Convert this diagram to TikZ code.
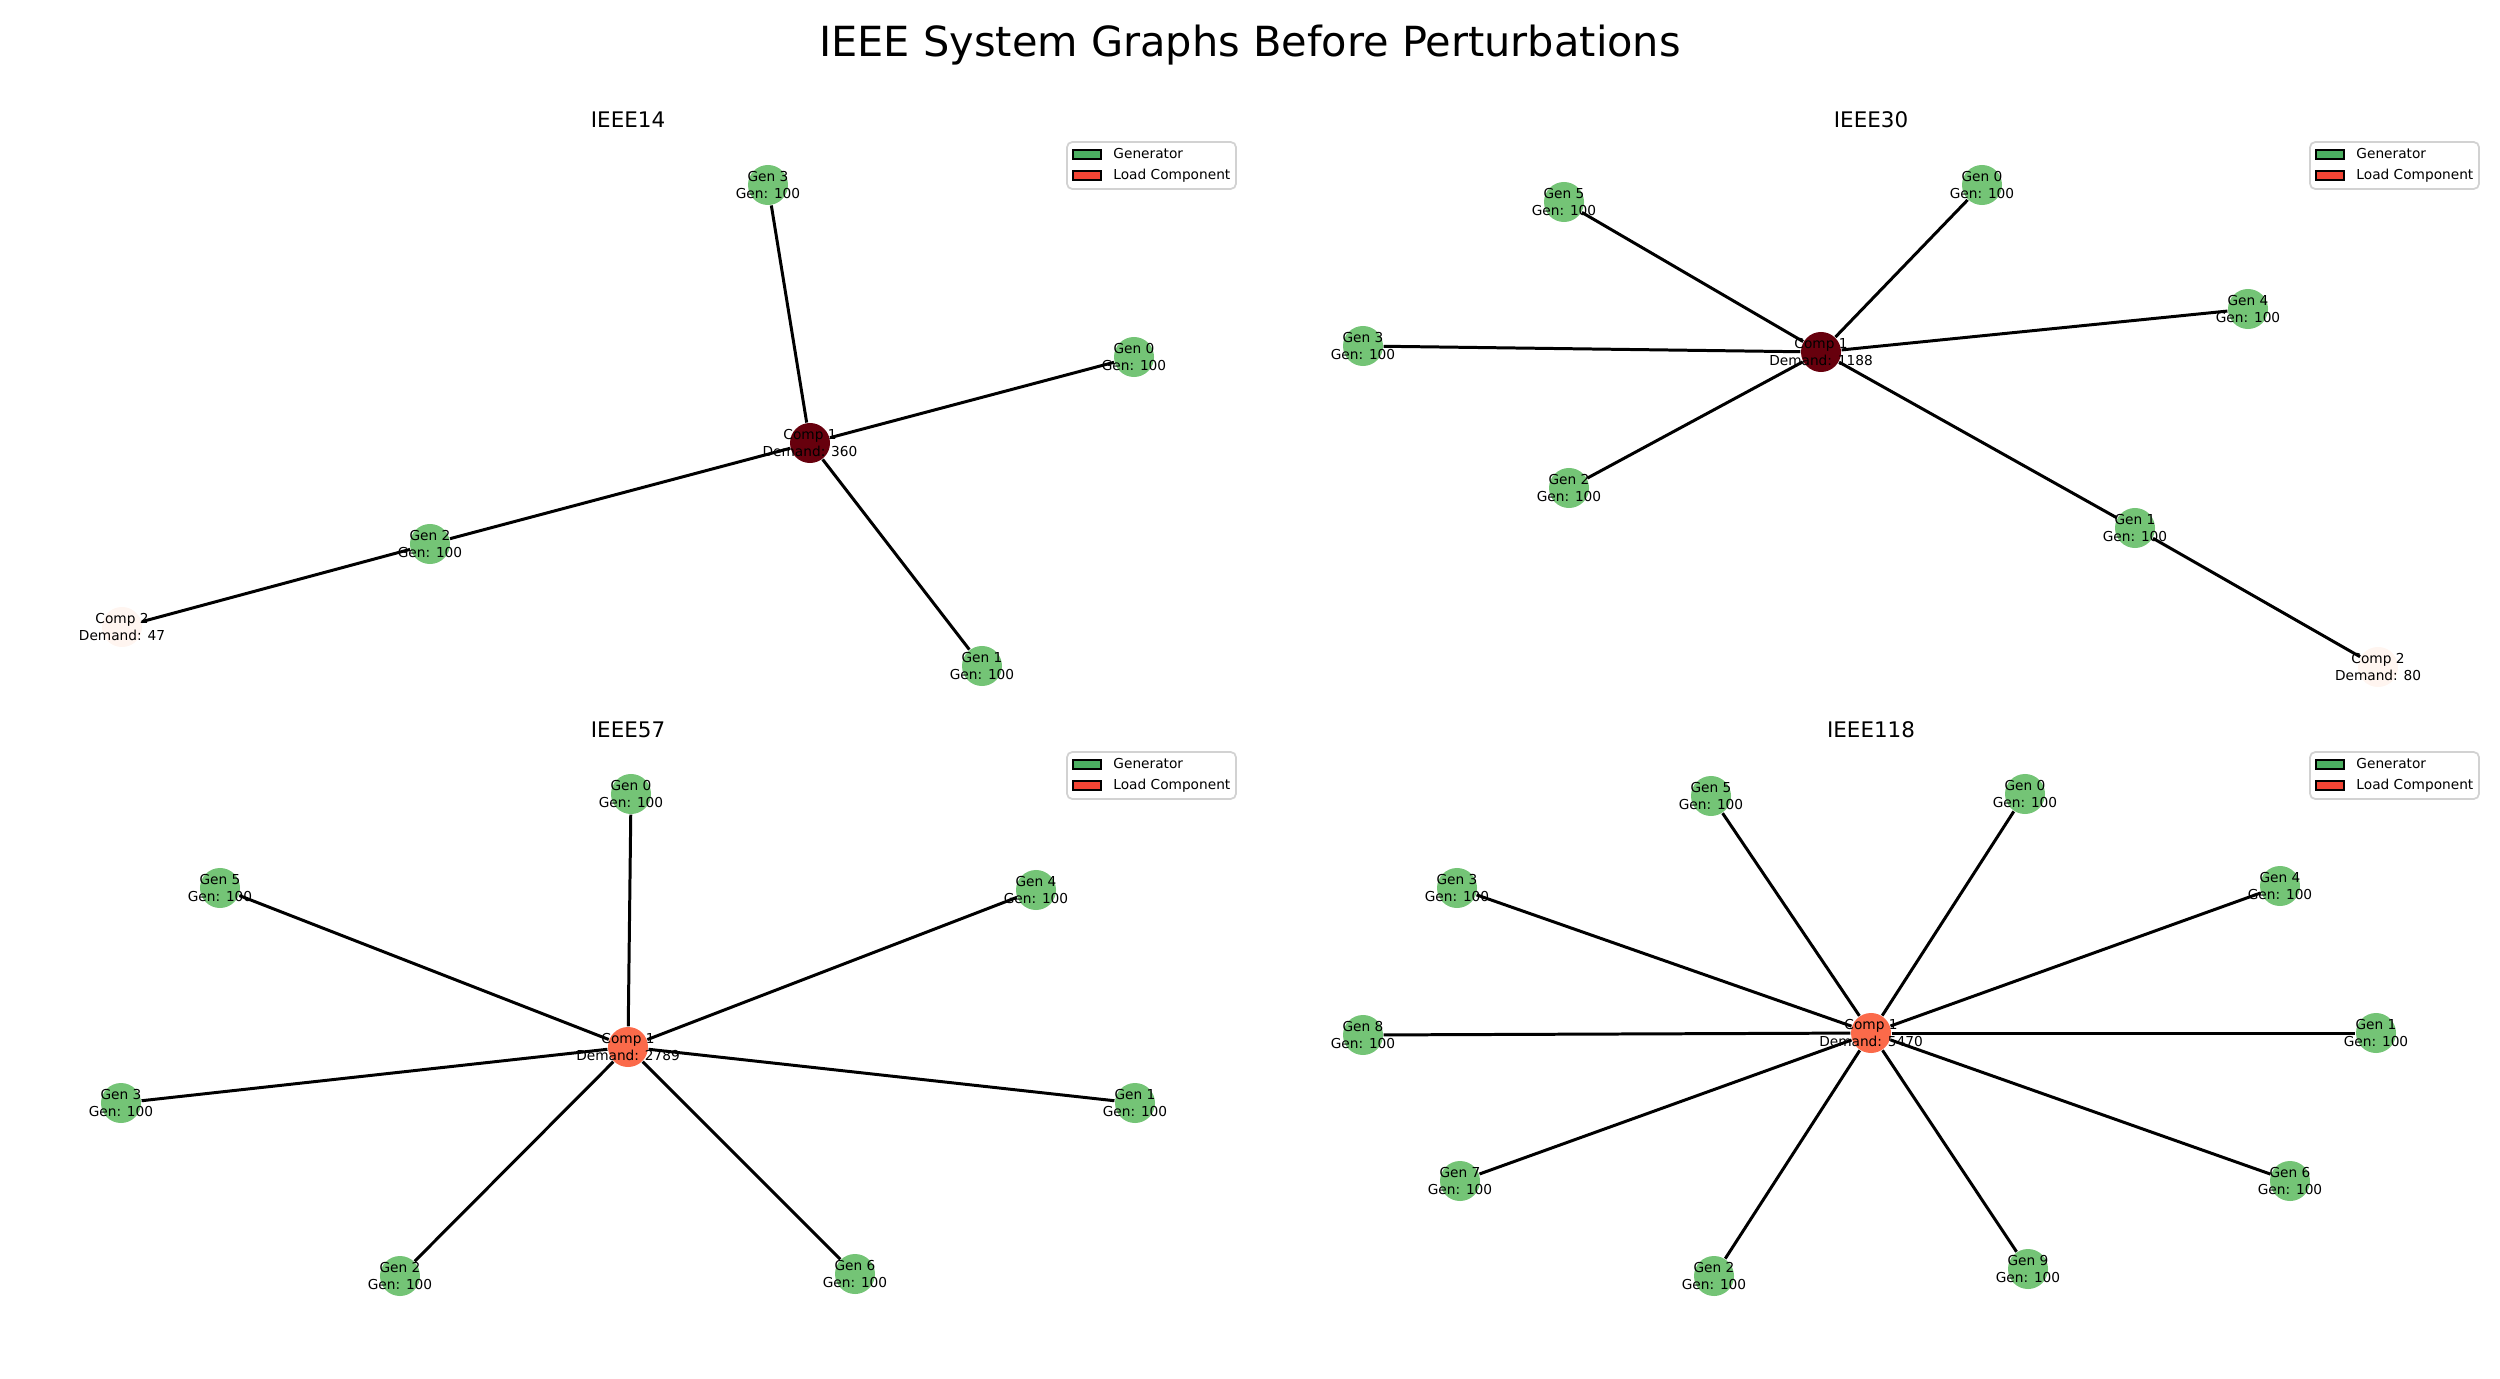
\documentclass[tikz,border=0pt]{standalone}
\usepackage{fontspec}
\setmainfont{DejaVu Sans}
\usepackage{tikz}
\usetikzlibrary{positioning}
\usepackage{xcolor}
\definecolor{GenGreen}{RGB}{116,196,118}
\definecolor{KeyGreen}{RGB}{76,175,97}
\definecolor{KeyRed}{RGB}{242,68,52}
\definecolor{LoadDark}{RGB}{103,0,13}
\definecolor{LoadMid}{RGB}{251,106,74}
\definecolor{LoadPale}{RGB}{255,245,240}
\definecolor{KeyFrame}{RGB}{210,210,210}

\begin{document}
\begin{tikzpicture}[
    x=0.01cm, y=-0.01cm,
    every node/.style={font=\fontsize{3.9pt}{4.7pt}\selectfont, inner sep=0pt},
    bus/.style={circle, minimum size=0.4cm, draw=none},
    gen/.style={bus, fill=GenGreen},
    lbl/.style={align=center},
    link/.style={draw=black, line width=0.85pt},
    plottitle/.style={font=\fontsize{6.1pt}{7pt}\selectfont},
    keypatch/.style={draw=black, line width=0.4pt, minimum width=0.28cm, minimum height=0.09cm},
    keytext/.style={anchor=west, text height=2.9pt, text depth=0.8pt},
]
\useasboundingbox (0,0) rectangle (2500,1379);

\node[font=\fontsize{11.8pt}{14pt}\selectfont] (maintitle) at (1250,45) {IEEE System Graphs Before Perturbations};

% panel titles and legends
\foreach \dx/\dy/\name in {0/0/IEEE14, 1243/0/IEEE30, 0/610/IEEE57, 1243/610/IEEE118} {
  \begin{scope}[shift={(\dx,\dy)}]
    \node[plottitle] (title-\name) at (628,120) {\name};
    \draw[KeyFrame, line width=0.5pt, fill=white, rounded corners=1.5pt] (1067,142) rectangle (1236,189);
    \node[keypatch, fill=KeyGreen] (genkey-\name) at (1087,154.5) {};
    \node[keypatch, fill=KeyRed] (loadkey-\name) at (1087,175.5) {};
    \node[keytext, right=0.11cm of genkey-\name] (gentext-\name) {Generator};
    \node[keytext, right=0.11cm of loadkey-\name] (loadtext-\name) {Load Component};
  \end{scope}
}

% IEEE14
\node[bus, fill=LoadDark] (n14c1) at (810,443) {};
\node[bus, fill=LoadPale] (n14c2) at (122,627) {};
\foreach \i/\px/\py in {0/1134/357, 1/982/666, 2/430/544, 3/768/185}
  \node[gen] (n14g\i) at (\px,\py) {};
\foreach \i in {0,...,3}
  \draw[link] (n14c1) -- (n14g\i);
\draw[link] (n14g2) -- (n14c2);
\foreach \i in {0,...,3}
  \node[lbl] (l14g\i) at (n14g\i) {Gen \i\\Gen: 100};
\node[lbl] (l14c1) at (n14c1) {Comp 1\\Demand: 360};
\node[lbl] (l14c2) at (n14c2) {Comp 2\\Demand: 47};

% IEEE30
\node[bus, fill=LoadDark] (n30c1) at (1821,352) {};
\node[bus, fill=LoadPale] (n30c2) at (2378,667) {};
\foreach \i/\px/\py in {0/1982/185, 1/2135/528, 2/1569/488, 3/1363/346, 4/2248/309, 5/1564/202}
  \node[gen] (n30g\i) at (\px,\py) {};
\foreach \i in {0,...,5}
  \draw[link] (n30c1) -- (n30g\i);
\draw[link] (n30g1) -- (n30c2);
\foreach \i in {0,...,5}
  \node[lbl] (l30g\i) at (n30g\i) {Gen \i\\Gen: 100};
\node[lbl] (l30c1) at (n30c1) {Comp 1\\Demand: 1188};
\node[lbl] (l30c2) at (n30c2) {Comp 2\\Demand: 80};

% IEEE57
\node[bus, fill=LoadMid] (n57c1) at (628,1047) {};
\foreach \i/\px/\py in {0/631/794, 1/1135/1103, 2/400/1276, 3/121/1103, 4/1036/890, 5/220/888, 6/855/1274}
  \node[gen] (n57g\i) at (\px,\py) {};
\foreach \i in {0,...,6}
  \draw[link] (n57c1) -- (n57g\i);
\foreach \i in {0,...,6}
  \node[lbl] (l57g\i) at (n57g\i) {Gen \i\\Gen: 100};
\node[lbl] (l57c1) at (n57c1) {Comp 1\\Demand: 2789};

% IEEE118
\node[bus, fill=LoadMid] (n118c1) at (1871,1033) {};
\foreach \i/\px/\py in {0/2025/794, 1/2376/1033, 2/1714/1276, 3/1457/888, 4/2280/886, 5/1711/796, 6/2290/1181, 7/1460/1181, 8/1363/1035, 9/2028/1269}
  \node[gen] (n118g\i) at (\px,\py) {};
\foreach \i in {0,...,9}
  \draw[link] (n118c1) -- (n118g\i);
\foreach \i in {0,...,9}
  \node[lbl] (l118g\i) at (n118g\i) {Gen \i\\Gen: 100};
\node[lbl] (l118c1) at (n118c1) {Comp 1\\Demand: 5470};
\end{tikzpicture}
\end{document}
